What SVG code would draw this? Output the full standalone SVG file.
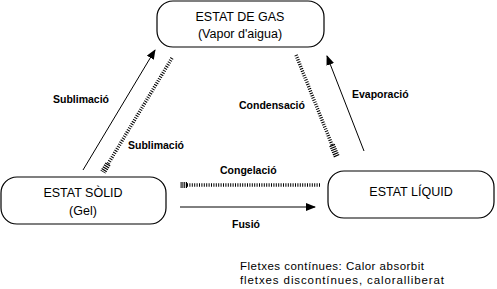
<svg xmlns="http://www.w3.org/2000/svg" width="497" height="289" viewBox="0 0 497 289">
<defs>
<style>
.box{fill:#fff;stroke:#000;stroke-width:1.2}
.t{font-family:"Liberation Sans",Arial,sans-serif;font-size:12.5px;fill:#000;text-anchor:middle}
.l{font-family:"Liberation Sans",Arial,sans-serif;font-size:10.5px;font-weight:bold;fill:#000}
.n{font-family:"Liberation Sans",Arial,sans-serif;font-size:11.5px;fill:#000}
.s{stroke:#000;stroke-width:1;fill:none}
.h{stroke:#000;stroke-width:3.5;stroke-dasharray:1 1.4;fill:none}
.hh{stroke:#000;stroke-width:6;stroke-dasharray:1.2 1;fill:none}
</style>
<marker id="ah" markerWidth="10" markerHeight="8" refX="9" refY="4" orient="auto" markerUnits="userSpaceOnUse">
<path d="M0,0 L10,4 L0,8 Z" fill="#000"/>
</marker>
</defs>
<g id="gas">
<rect class="box" x="157" y="1" width="167" height="46" rx="16"/>
<text class="t" x="240" y="21">ESTAT DE GAS</text>
<text class="t" x="240" y="38">(Vapor d'aigua)</text>
</g>
<g id="solid">
<rect class="box" x="1" y="177" width="165" height="47" rx="16"/>
<text class="t" x="83" y="197">ESTAT SÒLID</text>
<text class="t" x="83" y="215">(Gel)</text>
</g>
<g id="liquid">
<rect class="box" x="328" y="171" width="166" height="47" rx="16"/>
<text class="t" x="411" y="196">ESTAT LÍQUID</text>
</g>
<g id="connectors">
<line class="s" x1="83" y1="170" x2="155" y2="50" marker-end="url(#ah)"/>
<line class="h" x1="172" y1="58" x2="108" y2="164"/>
<line class="hh" x1="108" y1="164" x2="103" y2="172"/>
<line class="h" x1="296" y1="55" x2="332" y2="145"/>
<line class="hh" x1="332" y1="145" x2="337" y2="157"/>
<line class="s" x1="364" y1="151" x2="327" y2="56" marker-end="url(#ah)"/>
<line class="h" x1="320" y1="185" x2="187" y2="185"/>
<line class="hh" x1="187" y1="185" x2="180" y2="185"/>
<line class="s" x1="180" y1="207" x2="315" y2="207" marker-end="url(#ah)"/>
</g>
<g id="labels">
<text class="l" x="53" y="103">Sublimació</text>
<text class="l" x="128" y="149">Sublimació</text>
<text class="l" x="239" y="109">Condensació</text>
<text class="l" x="352" y="98">Evaporació</text>
<text class="l" x="220" y="174">Congelació</text>
<text class="l" x="232" y="228">Fusió</text>
<text class="n" x="240" y="270" textLength="184">Fletxes contínues: Calor absorbit</text>
<text class="n" x="240" y="284" textLength="204">fletxes discontínues, caloralliberat</text>
</g>
</svg>
